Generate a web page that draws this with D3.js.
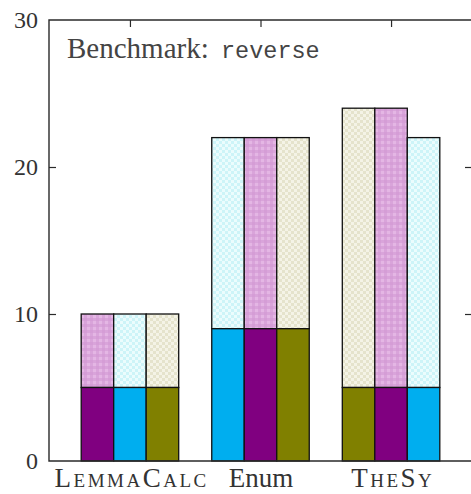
<!DOCTYPE html>
<html><head><meta charset="utf-8">
<script src="https://cdn.jsdelivr.net/npm/d3@7"></script>
<style>body{margin:0;background:#fff}svg{display:block}</style>
</head><body>
<script>
// Proof counts per tool: solid lower part and hatched upper part of each bar
const tools = ["LemmaCalc", "Enum", "TheSy"];
const smallCapsTools = ["LemmaCalc", "TheSy"];
const barSeries = [["violet", "cyan", "olive"], ["cyan", "violet", "olive"], ["olive", "violet", "cyan"]];
const baseValues = [[5, 5, 5], [9, 9, 9], [5, 5, 5]];
const totalValues = [[10, 10, 10], [22, 22, 22], [24, 24, 22]];
const yTicks = [0, 10, 20, 30];
const yInnerTicks = [10, 20];
const benchmarkName = "reverse";

const W = 471, H = 494;
const plotLeft = 49, plotRight = 472, plotTop = 20, plotBottom = 461;

const solid = { violet: "#800080", cyan: "#00aeef", olive: "#808000" };

const svg = d3.select("body").append("svg").attr("width", W).attr("height", H);
const defs = svg.append("defs");

// light textured fills for the upper segments
function checker(id, base, dot, size, cell) {
  const p = defs.append("pattern").attr("id", id).attr("patternUnits", "userSpaceOnUse")
    .attr("width", size).attr("height", size);
  p.append("rect").attr("width", size).attr("height", size).attr("fill", base);
  p.append("rect").attr("width", cell).attr("height", cell).attr("fill", dot);
  p.append("rect").attr("x", size / 2).attr("y", size / 2).attr("width", cell).attr("height", cell).attr("fill", dot);
}
function plaid(id, base, band, size, w) {
  const p = defs.append("pattern").attr("id", id).attr("patternUnits", "userSpaceOnUse")
    .attr("width", size).attr("height", size);
  p.append("rect").attr("width", size).attr("height", size).attr("fill", base);
  p.append("rect").attr("width", size).attr("height", w).attr("fill", band).attr("opacity", 0.6);
  p.append("rect").attr("width", w).attr("height", size).attr("fill", band).attr("opacity", 0.6);
}
plaid("pat-violet", "#e4b6e4", "#d297d3", 6, 3);
checker("pat-cyan", "#ebfcfd", "#cdf4f8", 6, 3);
checker("pat-olive", "#f4f3e6", "#e5e3cc", 6, 3);

const x = d3.scalePoint().domain(tools).range([plotLeft, plotRight]).padding(0.62);
const xi = d3.scaleBand().domain([0, 1, 2]).range([-48.75, 48.75]);
const y = d3.scaleLinear().domain([0, 30]).range([plotBottom, plotTop]);

const serif = "'Liberation Serif', 'Times New Roman', serif";

// bars
tools.forEach((t, g) => {
  barSeries[g].forEach((s, i) => {
    const bx = x(t) + xi(i);
    svg.append("rect").attr("x", bx).attr("width", xi.bandwidth())
      .attr("y", y(totalValues[g][i])).attr("height", y(baseValues[g][i]) - y(totalValues[g][i]))
      .attr("fill", `url(#pat-${s})`).attr("stroke", "#111").attr("stroke-width", 1.3);
    svg.append("rect").attr("x", bx).attr("width", xi.bandwidth())
      .attr("y", y(baseValues[g][i])).attr("height", y(0) - y(baseValues[g][i]))
      .attr("fill", solid[s]).attr("stroke", "#111").attr("stroke-width", 1.3);
  });
});

// frame
const axisColor = "#2a2a2a";
svg.append("path").attr("d", `M${plotRight},${plotTop}H${plotLeft}V${plotBottom}H${plotRight}`)
  .attr("fill", "none").attr("stroke", axisColor).attr("stroke-width", 1.4);

// inner ticks
const yAxisL = d3.axisRight(y).tickValues(yInnerTicks).tickSize(7).tickFormat("");
svg.append("g").attr("transform", `translate(${plotLeft},0)`).call(yAxisL)
  .call(g => g.select(".domain").remove())
  .selectAll("line").attr("stroke", axisColor).attr("stroke-width", 1.2);
const yAxisR = d3.axisLeft(y).tickValues(yInnerTicks).tickSize(7).tickFormat("");
svg.append("g").attr("transform", `translate(${plotRight},0)`).call(yAxisR)
  .call(g => g.select(".domain").remove())
  .selectAll("line").attr("stroke", axisColor).attr("stroke-width", 1.2);
const xAxisT = d3.axisBottom(x).tickSize(7).tickFormat("");
svg.append("g").attr("transform", `translate(0,${plotTop})`).call(xAxisT)
  .call(g => g.select(".domain").remove())
  .selectAll("line").attr("stroke", axisColor).attr("stroke-width", 1.2);

// y tick labels
const yAxis = d3.axisLeft(y).tickValues(yTicks).tickSize(0).tickPadding(11);
svg.append("g").attr("transform", `translate(${plotLeft},0)`).call(yAxis)
  .call(g => g.select(".domain").remove())
  .selectAll("text").attr("font-family", serif).attr("font-size", 24).attr("fill", "#333");

// tool labels
const xAxis = d3.axisBottom(x).tickSize(0).tickPadding(7);
svg.append("g").attr("transform", `translate(0,${plotBottom})`).call(xAxis)
  .call(g => g.select(".domain").remove())
  .selectAll("text").attr("font-family", serif).attr("font-size", 27).attr("fill", "#333")
  .each(function (d) {
    if (smallCapsTools.includes(d)) {
      d3.select(this).style("font-variant", "small-caps")
        .attr("letter-spacing", 2.5).attr("dx", 1.2);
    }
  });

// benchmark caption
const cap = svg.append("text").attr("x", 67).attr("y", 58).attr("fill", "#444");
cap.append("tspan").attr("font-family", serif).attr("font-size", 29).text("Benchmark: ");
cap.append("tspan").attr("font-family", "'Liberation Mono', 'DejaVu Sans Mono', monospace")
  .attr("font-size", 23.5).attr("dx", 5).text(benchmarkName);
</script>
</body></html>
